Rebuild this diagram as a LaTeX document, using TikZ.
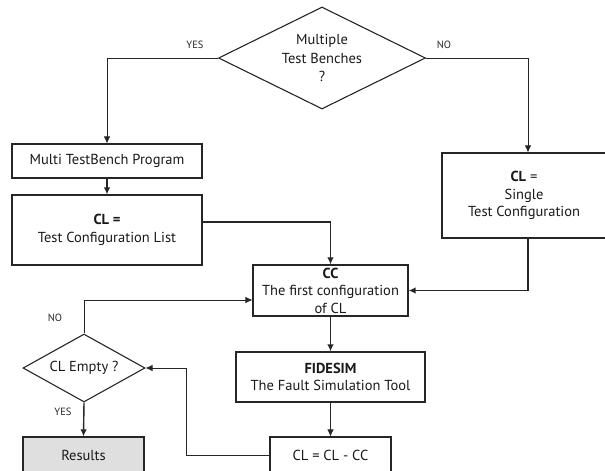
\documentclass[tikz,border=0pt]{standalone}
\usepackage{fontspec}
\setmainfont{PT Sans}
\usetikzlibrary{shapes.geometric}
\usetikzlibrary{arrows.meta}

\begin{document}
\begin{tikzpicture}[x=1pt,y=-1pt,
  box/.style={draw=black!85,line width=1.1pt,align=center,inner sep=0pt,text=black!90,font=\fontsize{14.5}{17.5}\selectfont},
  ask/.style={diamond,draw=black!85,line width=1.1pt,align=center,inner sep=0pt,aspect=2,text=black!90,font=\fontsize{14.5}{18.5}\selectfont},
  tag/.style={text=black!85,font=\fontsize{10.5}{12}\selectfont},
  link/.style={draw=black!85,line width=0.8pt,-{Latex[length=7pt,width=6.5pt]}},
  boldlink/.style={draw=black!85,line width=1.4pt,-{Latex[length=7pt,width=6.5pt]}}]

\useasboundingbox (0,0) rectangle (605,471);

\node[ask,minimum width=207pt,minimum height=102pt] (bench) at (322,58) {Multiple\\Test Benches\\?};
\node[box,minimum width=190pt,minimum height=34pt] (multi) at (107,161) {Multi TestBench Program};
\node[box,minimum width=190pt,minimum height=70pt] (cllist) at (107,230) {\textbf{CL =}\\Test Configuration List};
\node[box,minimum width=164pt,minimum height=85pt] (single) at (524,195.5) {\textbf{CL} =\\Single\\Test Configuration};
\node[box,minimum width=155pt,minimum height=51pt] (cc) at (330.5,290.5) {\textbf{CC}\\The first configuration\\of CL};
\node[box,minimum width=189pt,minimum height=50pt] (fidesim) at (330.5,377) {\textbf{FIDESIM}\\The Fault Simulation Tool};
\node[box,minimum width=121pt,minimum height=36pt] (clcc) at (330.5,455) {CL = CL - CC};
\node[ask,minimum width=122pt,minimum height=68pt] (empty) at (84,368) {CL Empty ?};
\node[box,fill=gray!25,minimum width=121pt,minimum height=36pt] (results) at (83.5,455) {Results};

\node[tag] (yes1) at (195,45) {YES};
\node[tag] (no1) at (444,45) {NO};
\node[tag] (no2) at (55,318) {NO};
\node[tag] (yes2) at (63,412) {YES};

\coordinate (bend) at (186,455);

\draw[link] (bench.west) -| (multi.north);
\draw[link] (bench.east) -| ([xshift=4pt]single.north);
\draw[boldlink] (multi.south) -- (cllist.north);
\draw[boldlink] ([yshift=8pt]cllist.east) -| (cc.north);
\draw[boldlink] ([xshift=4pt]single.south) |- (cc.east);
\draw[boldlink] (cc.south) -- (fidesim.north);
\draw[link] (fidesim.south) -- (clcc.north);
\draw[link] (clcc.west) -- (bend) |- (empty.east);
\draw[link] (empty.north) |- ([yshift=-9.5pt]cc.west);
\draw[boldlink] (empty.south) -- (results.north);

\end{tikzpicture}
\end{document}
